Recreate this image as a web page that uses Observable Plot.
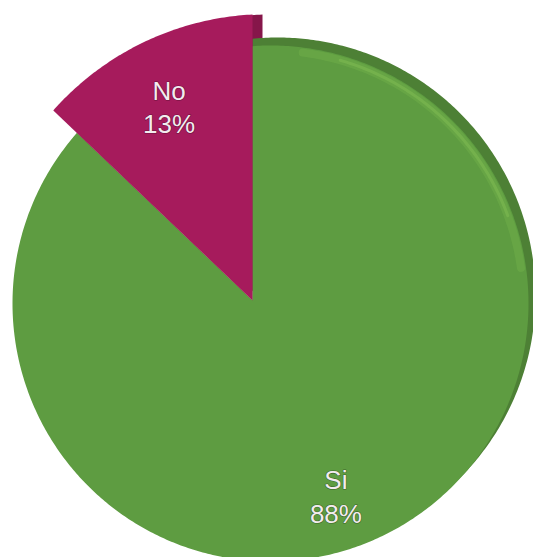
<!DOCTYPE html>
<html><head><meta charset="utf-8">
<script src="https://cdn.jsdelivr.net/npm/d3@7"></script>
<script src="https://cdn.jsdelivr.net/npm/@observablehq/plot@0.6"></script>
<style>body{margin:0;background:#fff}</style>
</head><body><div id="chart"></div>
<script>
// ---- data ----
const categories = ["Si", "No"];
const values = [88, 13];
const pctLabels = ["88%", "13%"];
const sliceColors = ["#5e9c41", "#a61b5c"];
const exploded = ["No"];

// ---- layout (pixels) ----
const W = 533, H = 557;
const V = [252, 300];                              // pie vertex
const faceCircle = {cx: 270, cy: 303, r: 258};     // flat face of the pie
const rimCircle  = {cx: 277, cy: 295, r: 258};     // visible thickness rim
const liftCircle = {cx: 267, cy: 300, r: 286.4};   // raised (exploded) slice
const labelDist = 212;

const rows = categories.map((c, i) => ({category: c, value: values[i], label: pctLabels[i], color: sliceColors[i]}));
const arcs = d3.pie().sort(null).value(d => d.value)(rows);

function hit(a, c, r = c.r) {
  const dx = Math.sin(a), dy = -Math.cos(a);
  const ox = V[0] - c.cx, oy = V[1] - c.cy;
  const b = dx * ox + dy * oy, q = ox * ox + oy * oy - r * r;
  const t = -b + Math.sqrt(b * b - q);
  return [V[0] + t * dx, V[1] + t * dy];
}
function slice(s, c, shift = [0, 0]) {
  const pts = [{x: V[0] + shift[0], y: V[1] + shift[1]}];
  const n = Math.max(8, Math.ceil((s.endAngle - s.startAngle) / 0.01));
  for (let k = 0; k <= n; k++) {
    const a = s.startAngle + (s.endAngle - s.startAngle) * k / n;
    const [x, y] = hit(a, c);
    pts.push({x: x + shift[0], y: y + shift[1]});
  }
  return pts;
}
function arcPts(a0, a1, c, r) {
  const pts = [];
  for (let k = 0; k <= 80; k++) {
    const [x, y] = hit(a0 + (a1 - a0) * k / 80, c, r);
    pts.push({x, y});
  }
  return pts;
}

const marks = [];
for (const s of arcs) {
  const d = s.data;
  if (exploded.includes(d.category)) {
    marks.push(Plot.line(slice(s, liftCircle, [10, 0]), {x: "x", y: "y", fill: d3.color(d.color).darker(0.6).formatHex(), stroke: "none", curve: "linear-closed"}));
  }
}
for (const s of arcs) {
  const d = s.data;
  if (!exploded.includes(d.category)) {
    marks.push(Plot.line(slice(s, rimCircle), {x: "x", y: "y", fill: d3.color(d.color).darker(0.55).formatHex(), stroke: "none", curve: "linear-closed"}));
    marks.push(Plot.line(slice(s, faceCircle), {x: "x", y: "y", fill: d.color, stroke: "none", curve: "linear-closed"}));
    // soft highlight just inside the rim
    marks.push(Plot.line(arcPts(s.startAngle + 0.2, s.startAngle + 1.45, faceCircle, faceCircle.r - 5),
      {x: "x", y: "y", stroke: "#8fd05a", strokeWidth: 8, strokeOpacity: 0.18, strokeLinecap: "round"}));
    marks.push(Plot.line(arcPts(s.startAngle + 0.35, s.startAngle + 1.25, faceCircle, faceCircle.r - 5),
      {x: "x", y: "y", stroke: "#9ad963", strokeWidth: 3, strokeOpacity: 0.25, strokeLinecap: "round"}));
  }
}
for (const s of arcs) {
  const d = s.data;
  if (exploded.includes(d.category)) {
    marks.push(Plot.line(slice(s, liftCircle), {x: "x", y: "y", fill: d.color, stroke: "none", curve: "linear-closed"}));
  }
}
const labelRows = arcs.map(s => {
  const a = (s.startAngle + s.endAngle) / 2;
  return {x: V[0] + labelDist * Math.sin(a), y: V[1] - labelDist * Math.cos(a),
          text: s.data.category + "\n" + s.data.label, outline: d3.color(s.data.color).darker(1.2).formatHex()};
});
for (const r of labelRows) {
  marks.push(Plot.text([r], {x: "x", y: "y", text: "text", fill: "#f3ecef", stroke: r.outline, strokeWidth: 1.2, paintOrder: "stroke",
    fontSize: 26, fontFamily: "Liberation Sans, Arial, sans-serif", lineHeight: 1.3}));
}

const chart = Plot.plot({
  width: W, height: H, margin: 0,
  x: {domain: [0, W], range: [0, W], axis: null},
  y: {domain: [0, H], range: [0, H], axis: null},
  style: {background: "#fff"},
  marks
});
document.getElementById("chart").appendChild(chart);
</script>
</body></html>
